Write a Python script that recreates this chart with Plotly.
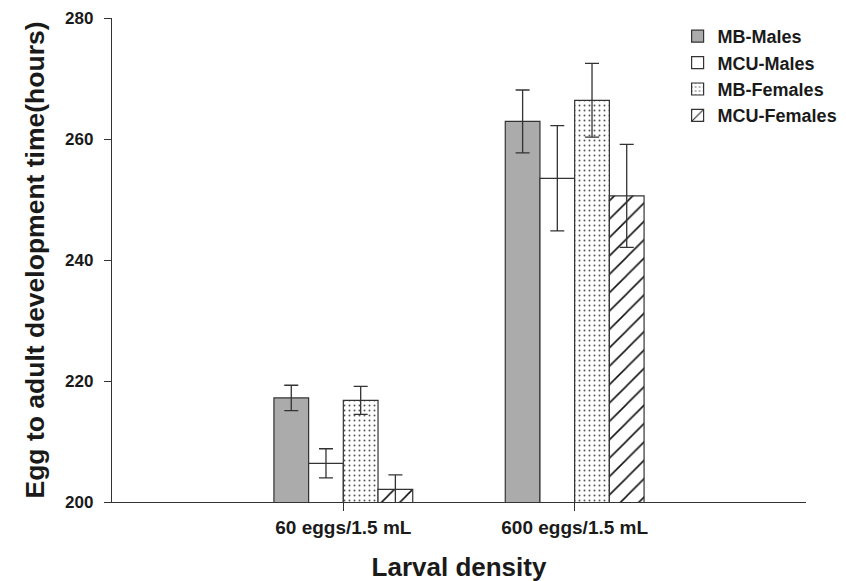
import plotly.graph_objects as go

categories = ["60 eggs/1.5 mL", "600 eggs/1.5 mL"]
series_names = ["MB-Males", "MCU-Males", "MB-Females", "MCU-Females"]
mb_males = [217.2, 262.9]
mb_males_err = [2.1, 5.2]
mcu_males = [206.4, 253.5]
mcu_males_err = [2.4, 8.7]
mb_females = [216.8, 266.4]
mb_females_err = [2.3, 6.1]
mcu_females = [202.1, 250.6]
mcu_females_err = [2.4, 8.5]
y_ticks = [200, 220, 240, 260, 280]

FONT = "Liberation Sans, Arial, sans-serif"
LINE = "#333333"
TXT = "#1a1a1a"

styles = [
    dict(color="#ababab"),
    dict(color="#ffffff"),
    dict(color="#ffffff", pattern=dict(shape=".", fgcolor="#555555", bgcolor="#ffffff",
                                        size=5, solidity=0.12, fgopacity=1)),
    dict(color="#ffffff", pattern=dict(shape="/", fgcolor="#111111", bgcolor="#ffffff",
                                        size=13, solidity=0.12, fgopacity=1)),
]
values = [mb_males, mcu_males, mb_females, mcu_females]
errors = [mb_males_err, mcu_males_err, mb_females_err, mcu_females_err]

fig = go.Figure()
for name, vals, errs, st in zip(series_names, values, errors, styles):
    marker = dict(line=dict(color=LINE, width=1.2), **st)
    fig.add_trace(go.Bar(
        name=name, x=categories, y=vals,
        marker=marker,
        error_y=dict(type="data", array=errs, visible=True, color=LINE, thickness=1.3, width=7),
    ))

fig.update_layout(
    width=846, height=581,
    margin=dict(l=104, r=48, t=10, b=87, autoexpand=False),
    paper_bgcolor="white", plot_bgcolor="white",
    barmode="group", bargap=0.4, bargroupgap=0,
    font=dict(family=FONT, size=17, color=TXT, weight="bold"),
    showlegend=True,
    legend=dict(x=0.815, y=1.0, xanchor="left", yanchor="top",
                font=dict(family=FONT, size=18, color=TXT, weight="bold"),
                bgcolor="rgba(0,0,0,0)", tracegroupgap=0),
    xaxis=dict(
        type="category", range=[-1, 2],
        showline=True, linecolor=LINE, linewidth=1.3,
        ticks="outside", ticklen=8, tickcolor=LINE, tickwidth=1.3,
        showgrid=False, zeroline=False,
        tickfont=dict(size=19, weight="bold"),
        title=dict(text="Larval density", font=dict(size=26, weight="bold"), standoff=20),
    ),
    yaxis=dict(
        range=[200, 280], tickvals=y_ticks,
        showline=True, linecolor=LINE, linewidth=1.3,
        ticks="outside", ticklen=7, tickcolor=LINE, tickwidth=1.3,
        ticklabelstandoff=7,
        showgrid=False, zeroline=False,
        tickfont=dict(size=17, weight="bold"),
        title=dict(text="Egg to adult development time(hours)", font=dict(size=26.5, weight="bold"), standoff=12),
    ),
)

fig.write_html("out.html")
